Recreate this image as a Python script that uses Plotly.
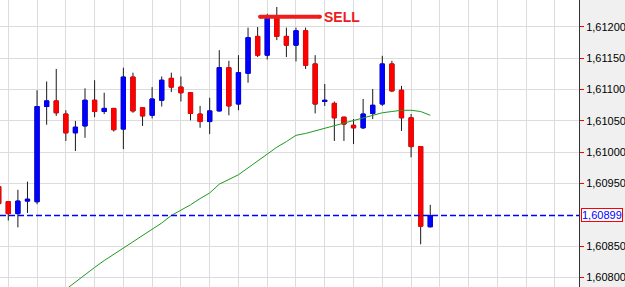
import plotly.graph_objects as go

# ---- data ----
idx = list(range(46))
opens = [1.60945, 1.60921, 1.60902, 1.60922, 1.60921, 1.61073, 1.61082, 1.61061, 1.61031, 1.61042,
         1.61083, 1.61065, 1.61070, 1.61037, 1.61120, 1.61071, 1.61059, 1.61083, 1.61118, 1.61104,
         1.61095, 1.61061, 1.61049, 1.61066, 1.61135, 1.61077, 1.61126, 1.61185, 1.61155, 1.61214,
         1.61185, 1.61171, 1.61194, 1.61141, 1.61081, 1.61078, 1.61056, 1.61043, 1.61039, 1.61062,
         1.61077, 1.61141, 1.61099, 1.61055, 1.61009, 1.60881]
highs = [1.60948, 1.60922, 1.60940, 1.60953, 1.61099, 1.61113, 1.61133, 1.61067, 1.61050, 1.61102,
         1.61115, 1.61095, 1.61070, 1.61135, 1.61127, 1.61071, 1.61104, 1.61121, 1.61127, 1.61121,
         1.61095, 1.61074, 1.61087, 1.61163, 1.61146, 1.61155, 1.61199, 1.61200, 1.61221, 1.61232,
         1.61199, 1.61199, 1.61199, 1.61155, 1.61109, 1.61081, 1.61056, 1.61053, 1.61085, 1.61101,
         1.61154, 1.61146, 1.61106, 1.61061, 1.61009, 1.60916]
lows = [1.60916, 1.60891, 1.60880, 1.60903, 1.60917, 1.61044, 1.61058, 1.61018, 1.61002, 1.61023,
        1.61056, 1.61061, 1.61033, 1.61005, 1.61063, 1.61042, 1.61054, 1.61073, 1.61096, 1.61081,
        1.61051, 1.61039, 1.61029, 1.61065, 1.61059, 1.61067, 1.61111, 1.61152, 1.61148, 1.61179,
        1.61152, 1.61145, 1.61133, 1.61062, 1.61074, 1.61018, 1.61018, 1.61013, 1.61037, 1.61053,
        1.61074, 1.61096, 1.61034, 1.60992, 1.60853, 1.60880]
closes = [1.60918, 1.60902, 1.60922, 1.60925, 1.61073, 1.61082, 1.61063, 1.61031, 1.61040, 1.61083,
          1.61065, 1.61070, 1.61036, 1.61120, 1.61066, 1.61058, 1.61085, 1.61115, 1.61104, 1.61095,
          1.61062, 1.61049, 1.61066, 1.61135, 1.61074, 1.61127, 1.61183, 1.61155, 1.61214, 1.61185,
          1.61171, 1.61194, 1.61139, 1.61077, 1.61083, 1.61055, 1.61045, 1.61039, 1.61061, 1.61075,
          1.61141, 1.61098, 1.61055, 1.61009, 1.60882, 1.60899]
ma = [None, None, None, None, None, None, None,
      1.60781, 1.60793, 1.60804, 1.60816, 1.60827, 1.60837, 1.60847, 1.60856, 1.60866, 1.60876,
      1.60887, 1.60899, 1.60907, 1.60916, 1.60926, 1.60935, 1.60949, 1.60957, 1.60964, 1.60975,
      1.60986, 1.60998, 1.61008, 1.61017, 1.61027, 1.61030, 1.61034, 1.61039, 1.61043, 1.61046,
      1.61051, 1.61055, 1.61059, 1.61063, 1.61065, 1.61067, 1.61067, 1.61065, 1.61059]

tick_vals = [1.608, 1.6085, 1.6095, 1.610, 1.6105, 1.611, 1.6115, 1.612]
tick_text = ["1,60800", "1,60850", "1,60950", "1,61000", "1,61050", "1,61100", "1,61150", "1,61200"]
last_price = 1.60899
last_label = "1,60899"
sell_level = 1.612165
sell_from, sell_to = 27.25, 33.5
sell_text = "SELL"

RED = "#ff0000"
BLUE = "#0000ff"

body_hi = [max(o, c) for o, c in zip(opens, closes)]
body_lo = [min(o, c) for o, c in zip(opens, closes)]

fig = go.Figure()

# wicks (black)
fig.add_trace(go.Candlestick(
    x=idx, open=opens, high=highs, low=lows, close=closes,
    increasing=dict(line=dict(color="#1a1a1a", width=1), fillcolor="#1a1a1a"),
    decreasing=dict(line=dict(color="#1a1a1a", width=1), fillcolor="#1a1a1a"),
    whiskerwidth=0, showlegend=False, hoverinfo="skip"))
# bodies (coloured)
fig.add_trace(go.Candlestick(
    x=idx, open=opens, high=body_hi, low=body_lo, close=closes,
    increasing=dict(line=dict(color=BLUE, width=1), fillcolor=BLUE),
    decreasing=dict(line=dict(color=RED, width=1), fillcolor=RED),
    whiskerwidth=0, showlegend=False, hoverinfo="skip"))

# moving average
fig.add_trace(go.Scatter(x=idx, y=ma, mode="lines",
                         line=dict(color="#1f9a1f", width=1),
                         showlegend=False, hoverinfo="skip"))

# SELL marker line (with rounded ends)
fig.add_trace(go.Scatter(x=[sell_from, sell_to], y=[sell_level, sell_level], mode="lines+markers",
                         line=dict(color="#ee1c1c", width=4),
                         marker=dict(color="#ee1c1c", size=4, line=dict(width=0)),
                         showlegend=False, hoverinfo="skip"))

fig.add_annotation(x=sell_to, y=sell_level, xref="x", yref="y", text="<b>" + sell_text + "</b>",
                   showarrow=False, xanchor="left", yanchor="middle", xshift=2,
                   font=dict(family="Liberation Sans, Arial, sans-serif", size=14, color="#ee1c1c"))

# current price dashed line
fig.add_shape(type="line", xref="paper", x0=0, x1=1, yref="y", y0=last_price, y1=last_price,
              line=dict(color=BLUE, width=1.5, dash="6px,3px"))

fig.add_annotation(x=1, y=last_price, xref="paper", yref="y", text=last_label,
                   showarrow=False, xanchor="left", yanchor="middle", xshift=2,
                   bgcolor="white", bordercolor=RED, borderwidth=1, borderpad=0,
                   font=dict(family="Liberation Sans, Arial, sans-serif", size=11, color=BLUE))

fig.update_layout(
    width=625, height=287,
    margin=dict(l=0, r=46, t=0, b=0),
    paper_bgcolor="#f0f0f0", plot_bgcolor="white",
    boxgap=0.37, boxmode="overlay",
    showlegend=False,
    xaxis=dict(range=[0.136, 60.51], rangeslider=dict(visible=False),
               tickmode="linear", tick0=1, dtick=3, showticklabels=False, ticks="",
               showgrid=True, gridcolor="#dcdcdc", gridwidth=1, zeroline=False, showline=False,
               fixedrange=True),
    yaxis=dict(range=[1.607848, 1.612431], side="right",
               tickmode="array", tickvals=tick_vals, ticktext=tick_text,
               ticks="outside", ticklen=4, tickcolor=RED, tickwidth=1,
               showgrid=True, gridcolor="#dcdcdc", gridwidth=1, zeroline=False,
               showline=True, linecolor="#333333", linewidth=1,
               tickfont=dict(family="Liberation Sans, Arial, sans-serif", size=11, color="black"),
               fixedrange=True),
)

fig.write_html("out.html")
